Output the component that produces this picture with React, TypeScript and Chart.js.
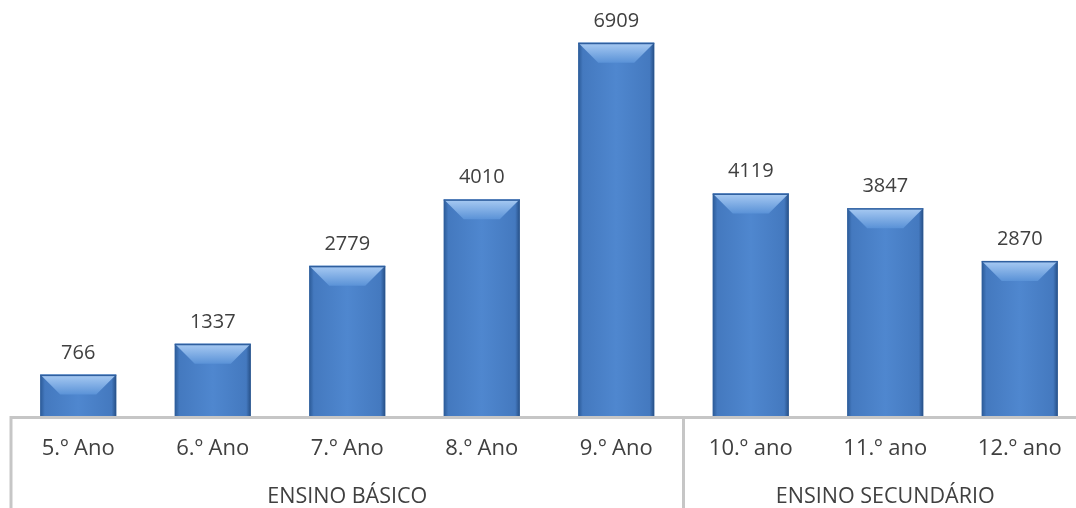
import React, { useEffect, useRef } from 'react';
import { Chart, registerables } from 'chart.js';

Chart.register(...registerables);

const categories = ['5.º Ano', '6.º Ano', '7.º Ano', '8.º Ano', '9.º Ano', '10.º ano', '11.º ano', '12.º ano'];
const values = [766, 1337, 2779, 4010, 6909, 4119, 3847, 2870];
const groupLabels = ['ENSINO BÁSICO', 'ENSINO SECUNDÁRIO'];
const groupSizes = [5, 3];

const FONT = '"Open Sans", "DejaVu Sans", sans-serif';
const TEXT = '#404040';
const LINE = '#c6c6c6';

const bevelPlugin = {
  id: 'bevel',
  afterDatasetsDraw(chart: any) {
    const ctx = chart.ctx as CanvasRenderingContext2D;
    const meta = chart.getDatasetMeta(0);
    meta.data.forEach((bar: any, i: number) => {
      const { x, y, base, width } = bar.getProps(['x', 'y', 'base', 'width'], true);
      const l = x - width / 2;
      const r = x + width / 2;
      const t = y;
      const h = base - t;
      const d = Math.min(20, h / 2, width / 2);
      ctx.save();
      const g = ctx.createLinearGradient(l, 0, r, 0);
      g.addColorStop(0, '#2b5a97');
      g.addColorStop(0.06, '#4479bf');
      g.addColorStop(0.5, '#4f87cf');
      g.addColorStop(0.94, '#4479bf');
      g.addColorStop(1, '#264f86');
      ctx.fillStyle = g;
      ctx.fillRect(l, t, width, h);
      const tg = ctx.createLinearGradient(0, t, 0, t + d);
      tg.addColorStop(0, '#a9cbf3');
      tg.addColorStop(1, '#5a92d7');
      ctx.beginPath();
      ctx.moveTo(l, t);
      ctx.lineTo(r, t);
      ctx.lineTo(r - d, t + d);
      ctx.lineTo(l + d, t + d);
      ctx.closePath();
      ctx.fillStyle = tg;
      ctx.fill();
      ctx.fillStyle = '#2f5f9f';
      ctx.fillRect(l, t, width, 1.5);
      // value label
      ctx.fillStyle = TEXT;
      ctx.font = `20px ${FONT}`;
      ctx.textAlign = 'center';
      ctx.textBaseline = 'alphabetic';
      ctx.fillText(String(values[i]), x, t - 16);
      ctx.restore();
    });
  },
};

const tablePlugin = {
  id: 'table',
  afterDraw(chart: any) {
    const ctx = chart.ctx as CanvasRenderingContext2D;
    const ca = chart.chartArea;
    const xs = chart.scales.x;
    const bottom = chart.height;
    ctx.save();
    ctx.strokeStyle = LINE;
    ctx.lineWidth = 3;
    ctx.beginPath();
    ctx.moveTo(ca.left, ca.bottom + 1.5);
    ctx.lineTo(ca.right, ca.bottom + 1.5);
    ctx.stroke();
    const bounds: number[] = [ca.left];
    let idx = 0;
    groupSizes.forEach((n) => {
      idx += n;
      if (idx < categories.length) {
        bounds.push((xs.getPixelForValue(idx - 1) + xs.getPixelForValue(idx)) / 2);
      } else {
        bounds.push(ca.right);
      }
    });
    for (let k = 0; k < bounds.length - 1; k++) {
      ctx.beginPath();
      ctx.moveTo(bounds[k], ca.bottom);
      ctx.lineTo(bounds[k], bottom);
      ctx.stroke();
    }
    ctx.fillStyle = TEXT;
    ctx.font = `21.5px ${FONT}`;
    ctx.textAlign = 'center';
    ctx.textBaseline = 'alphabetic';
    groupLabels.forEach((lab, k) => {
      ctx.fillText(lab, (bounds[k] + bounds[k + 1]) / 2, 503);
    });
    ctx.restore();
  },
};

export default function App() {
  const ref = useRef<HTMLCanvasElement>(null);
  useEffect(() => {
    if (!ref.current) return;
    const chart = new Chart(ref.current, {
      type: 'bar',
      data: {
        labels: categories,
        datasets: [
          {
            data: values,
            backgroundColor: '#4f81bd',
            barPercentage: 0.565,
            categoryPercentage: 1,
          },
        ],
      },
      options: {
        animation: false,
        responsive: false,
        layout: { padding: { left: 11, right: 13, top: 0, bottom: 0 } },
        plugins: { legend: { display: false }, tooltip: { enabled: false } },
        scales: {
          x: {
            grid: { display: false, drawTicks: false },
            border: { display: false },
            ticks: {
              color: TEXT,
              font: { family: FONT, size: 22 },
              padding: 20,
              maxRotation: 0,
              autoSkip: false,
            },
            afterFit: (s: any) => {
              s.height = 92;
            },
          },
          y: { display: false, min: 0, max: 7700 },
        },
      },
      plugins: [bevelPlugin, tablePlugin],
    });
    return () => chart.destroy();
  }, []);
  return (
    <div style={{ position: 'absolute', left: 0, top: 0, width: 1076, height: 508, overflow: 'hidden', background: '#fff' }}>
      <canvas ref={ref} width={1100} height={508} style={{ width: 1100, height: 508, display: 'block' }} />
    </div>
  );
}
